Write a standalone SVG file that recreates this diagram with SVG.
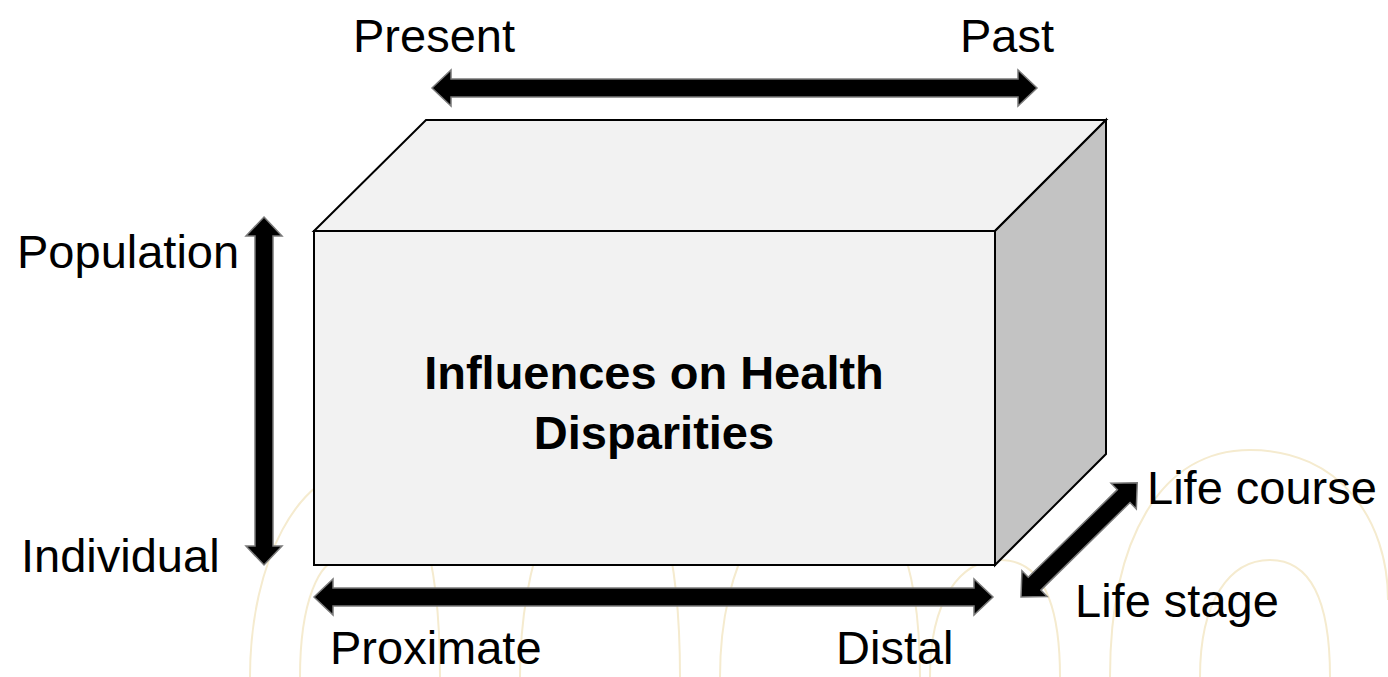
<svg xmlns="http://www.w3.org/2000/svg" width="1388" height="677" viewBox="0 0 1388 677">
  <style>
    .lbl { font-family: "Liberation Sans", Arial, sans-serif; font-size: 47px; fill: #000; }
    .title { font-family: "Liberation Sans", Arial, sans-serif; font-size: 47px; font-weight: bold; fill: #000; text-anchor: middle; }
    .face { stroke: #000; stroke-width: 2; stroke-linejoin: miter; }
    .arrow { fill: #000; stroke: #7a7a7a; stroke-width: 1.5; stroke-linejoin: miter; }
    .wm { fill: none; stroke: #f5ebcf; stroke-width: 2; }
  </style>

  <rect width="1388" height="677" fill="#fff"/>

  <!-- faint background arches -->
  <g id="backdrop" class="wm">
    <path d="M 250 677 C 250 560 300 470 360 470 C 420 470 440 560 440 677"/>
    <path d="M 520 677 C 520 560 560 460 610 460 C 660 460 680 560 680 677"/>
    <path d="M 300 677 C 300 600 320 560 340 560"/>
    <path d="M 720 677 C 720 560 770 480 830 480 C 890 480 920 560 920 677"/>
    <path d="M 930 677 C 930 600 960 560 1000 560 C 1040 560 1060 600 1060 677"/>
    <path d="M 1110 677 C 1110 540 1160 450 1250 450 C 1340 450 1388 520 1388 600"/>
    <path d="M 1200 677 C 1200 600 1230 560 1270 560 C 1310 560 1330 600 1330 677"/>
  </g>

  <!-- the box -->
  <g id="box">
    <polygon class="face" fill="#f2f2f2" points="314,231 426,120 1106,120 995,231"/>
    <polygon class="face" fill="#c3c3c3" points="995,231 1106,120 1106,454 995,565"/>
    <rect class="face" fill="#f2f2f2" x="314" y="231" width="681" height="334"/>
    <text class="title" x="654" y="389">Influences on Health</text>
    <text class="title" x="654" y="449">Disparities</text>
  </g>

  <!-- axis arrows -->
  <g id="connectors">
    <polygon class="arrow" points="432,88 451,70 451,79 1018,79 1018,70 1037,88 1018,106 1018,97 451,97 451,106"/>
    <polygon class="arrow" points="314,597 333,579 333,588 974,588 974,579 993,597 974,615 974,606 333,606 333,615"/>
    <polygon class="arrow" transform="translate(264,217) rotate(90)" points="0,0 19,-18 19,-9 329,-9 329,-18 348,0 329,18 329,9 19,9 19,18"/>
    <polygon class="arrow" transform="translate(1021,597) rotate(-44.5)" points="0,0 19,-18 19,-9 144,-9 144,-18 163,0 144,18 144,9 19,9 19,18"/>
  </g>

  <g id="labels">
    <text class="lbl" x="353" y="52">Present</text>
    <text class="lbl" x="960" y="52">Past</text>
    <text class="lbl" x="17" y="268">Population</text>
    <text class="lbl" x="21" y="572">Individual</text>
    <text class="lbl" x="1147" y="504">Life course</text>
    <text class="lbl" x="1075" y="617">Life stage</text>
    <text class="lbl" x="330" y="664">Proximate</text>
    <text class="lbl" x="836" y="664">Distal</text>
  </g>
</svg>
